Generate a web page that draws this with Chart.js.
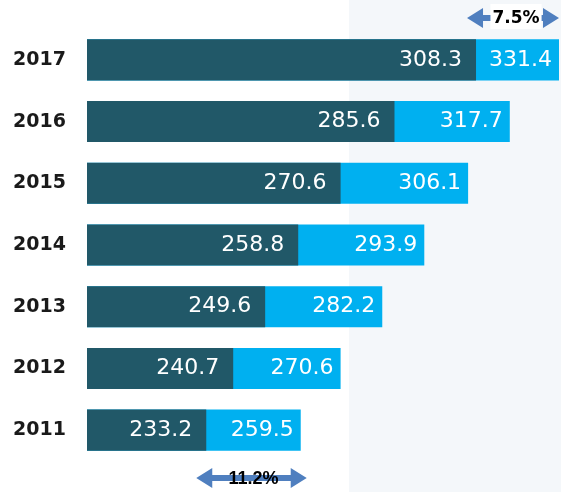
<!DOCTYPE html>
<html lang="en">
<head>
  <meta charset="UTF-8" />
  <title>Yearly comparison</title>
  <script src="https://cdn.jsdelivr.net/npm/chart.js"></script>
  <style>
    body { margin: 0; background: #fff; }
    #wrap { width: 561px; height: 492px; }
  </style>
</head>
<body>
  <div id="wrap"><canvas id="chart" width="561" height="492"></canvas></div>

  <script>
    const years = ['2017', '2016', '2015', '2014', '2013', '2012', '2011'];
    const darkValues = [308.3, 285.6, 270.6, 258.8, 249.6, 240.7, 233.2];
    const lightValues = [331.4, 317.7, 306.1, 293.9, 282.2, 270.6, 259.5];
    const topChange = '7.5%';
    const bottomChange = '11.2%';

    const DARK = '#215868';
    const LIGHT = '#00b0f0';
    const ARROW = '#4f7fbf';

    function doubleArrow(ctx, x1, x2, y) {
      const head = 16, hh = 10, sh = 3;
      ctx.save();
      ctx.fillStyle = ARROW;
      ctx.beginPath();
      ctx.moveTo(x1, y);
      ctx.lineTo(x1 + head, y - hh);
      ctx.lineTo(x1 + head, y - sh);
      ctx.lineTo(x2 - head, y - sh);
      ctx.lineTo(x2 - head, y - hh);
      ctx.lineTo(x2, y);
      ctx.lineTo(x2 - head, y + hh);
      ctx.lineTo(x2 - head, y + sh);
      ctx.lineTo(x1 + head, y + sh);
      ctx.lineTo(x1 + head, y + hh);
      ctx.closePath();
      ctx.fill();
      ctx.restore();
    }

    const decor = {
      id: 'decor',
      beforeDraw(chart) {
        const ctx = chart.ctx;
        ctx.save();
        ctx.fillStyle = '#f4f7fa';
        ctx.fillRect(349, 0, chart.width - 349, chart.height);
        ctx.restore();
      },
      afterDatasetsDraw(chart) {
        const ctx = chart.ctx;
        ctx.save();
        ctx.font = '22px "DejaVu Sans", sans-serif';
        ctx.fillStyle = '#fff';
        ctx.textAlign = 'right';
        ctx.textBaseline = 'middle';
        [0, 1].forEach(di => {
          const ds = chart.data.datasets[di];
          chart.getDatasetMeta(di).data.forEach((bar, i) => {
            ctx.fillText(ds.data[i].toFixed(1), bar.x - (di === 0 ? 14 : 7), bar.y);
          });
        });

        const xs = chart.scales.x;
        const n = years.length - 1;
        // top arrow
        let a1 = xs.getPixelForValue(darkValues[0]) - 9;
        let a2 = xs.getPixelForValue(lightValues[0]);
        doubleArrow(ctx, a1, a2, 18);
        ctx.font = 'bold 17px "DejaVu Sans", sans-serif';
        ctx.textAlign = 'center';
        let mid = (a1 + a2) / 2 + 3;
        let w = ctx.measureText(topChange).width;
        ctx.fillStyle = '#fff';
        ctx.fillRect(mid - w / 2 - 2, 4, w + 4, 25);
        ctx.fillStyle = '#000';
        ctx.fillText(topChange, mid, 19);

        // bottom arrow
        a1 = xs.getPixelForValue(darkValues[n]) - 10;
        a2 = xs.getPixelForValue(lightValues[n]) + 6;
        doubleArrow(ctx, a1, a2, 478);
        mid = (a1 + a2) / 2 + 2;
        ctx.font = 'bold 18px "Liberation Sans", Arial, sans-serif';
        ctx.fillStyle = '#000';
        ctx.fillText(bottomChange, mid, 479);
        ctx.restore();
      }
    };

    new Chart(document.getElementById('chart'), {
      type: 'bar',
      data: {
        labels: years,
        datasets: [
          { data: darkValues, backgroundColor: DARK, grouped: false, barPercentage: 0.665, categoryPercentage: 1 },
          { data: lightValues, backgroundColor: LIGHT, grouped: false, barPercentage: 0.665, categoryPercentage: 1 }
        ]
      },
      options: {
        indexAxis: 'y',
        responsive: false,
        animation: false,
        layout: { padding: { top: 29, bottom: 31, right: 2, left: 0 } },
        plugins: { legend: { display: false }, tooltip: { enabled: false } },
        scales: {
          x: { display: false, min: 200, max: 331.4 },
          y: {
            grid: { display: false },
            border: { display: false },
            ticks: {
              padding: 13,
              color: '#1a1a1a',
              font: { size: 19, weight: 'bold', family: '"DejaVu Sans", sans-serif' }
            },
            afterFit(scale) { scale.width = 87; }
          }
        }
      },
      plugins: [decor]
    });
  </script>
</body>
</html>
